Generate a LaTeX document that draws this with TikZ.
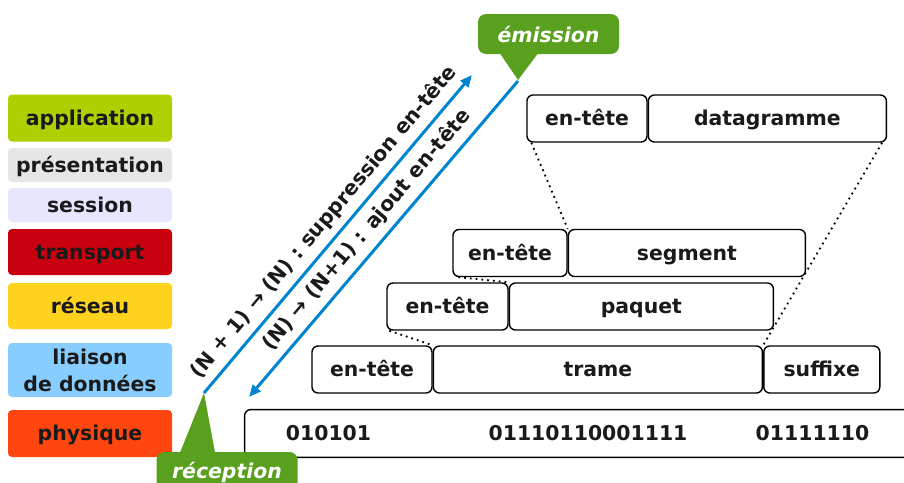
\documentclass[tikz,border=0pt]{standalone}
\usepackage{fontspec}
\setmainfont{DejaVu Sans}
\usetikzlibrary{
  arrows.meta, % for the Triangle arrow tips
  calc, % for the tails of the callouts
  positioning, % to put the boxes of a row side by side
}
\definecolor{applic}{RGB}{175,208,0}
\definecolor{presen}{RGB}{230,230,230}
\definecolor{sess}{RGB}{230,230,255}
\definecolor{transp}{RGB}{200,0,15}
\definecolor{resea}{RGB}{255,210,30}
\definecolor{liais}{RGB}{135,205,255}
\definecolor{phys}{RGB}{255,70,15}
\definecolor{emgreen}{RGB}{88,160,30}
\definecolor{flowblue}{RGB}{0,132,209}
\definecolor{ink}{RGB}{26,26,26}
\newcommand{\boxfont}{\fontsize{10.2}{12.5}\selectfont\bfseries}
\tikzset{
  label text/.style={ % same baseline for every one line text
    text height=7.4pt,text depth=0pt,
    text=ink,
    font=\boxfont,
  },
  layer/.style={ % style for the coloured layers on the left
    rectangle,rounded corners=2pt, % no border, softly rounded
    inner sep=0pt, % the size is set by hand
    minimum width=82pt, % all layers have the same width
    align=center, % for the two line layer
    label text,
  },
  pdu/.style={ % style for the white boxes of a data unit
    rectangle,draw,line width=0.7pt, % drawn as a thin rectangle
    rounded corners=3pt,
    fill=white,
    inner sep=0pt,
    minimum height=23.5pt, % every row has the same height
    label text,
  },
  callout/.style={ % style for the green speech bubbles
    rectangle,rounded corners=4pt,
    fill=emgreen,text=white,
    minimum width=70.5pt,minimum height=20pt,
    font=\fontsize{10.2}{12.5}\selectfont\bfseries\itshape,
  },
  flow/.style={ % style for the blue arrows
    -{Triangle[length=6pt,width=5pt]}, % solid arrow tip
    line width=1.5pt,
    draw=flowblue,
  },
  cut/.style={ % style for the dotted guide lines
    dotted,line width=0.9pt,
  },
}

\begin{document}
\begin{tikzpicture}[x=0.5pt,y=-0.5pt]
	\useasboundingbox (0,0) rectangle (904,482);
	
	% layers
	\node (app) [layer, fill=applic, minimum height=23.5pt] at (90,118) {application};
	\node (pres) [layer, fill=presen, minimum height=17pt] at (90,165) {présentation};
	\node (sess) [layer, fill=sess, minimum height=17pt] at (90,205) {session};
	\node (trans) [layer, fill=transp, minimum height=23pt] at (90,252) {transport};
	\node (res) [layer, fill=resea, minimum height=23pt] at (90,306) {réseau};
	\node (liai) [layer, fill=liais, minimum height=27pt, text height=, text depth=] at (90,370) {liaison\\[1pt]de données};
	\node (phy) [layer, fill=phys, minimum height=23.5pt] at (90,433.5) {physique};
	
	% data units
	\node (dghead) [pdu, minimum width=60pt] at (587,118.5) {en-tête};
	\node (dg) [pdu, minimum width=119pt, right=0pt of dghead] {datagramme};
	
	\node (seghead) [pdu, minimum width=57pt] at (510,253) {en-tête};
	\node (seg) [pdu, minimum width=118.5pt, right=0pt of seghead] {segment};
	
	\node (pqhead) [pdu, minimum width=60.5pt] at (447.5,306.5) {en-tête};
	\node (pq) [pdu, minimum width=132pt, right=0pt of pqhead] {paquet};
	
	\node (trhead) [pdu, minimum width=60pt] at (372,369.5) {en-tête};
	\node (tr) [pdu, minimum width=164.5pt, right=0pt of trhead] {trame};
	\node (suff) [pdu, minimum width=58pt, right=0pt of tr] {suffixe};
	
	\node (bits) [minimum width=329.5pt, minimum height=23.5pt, inner sep=0pt] at (574.5,433.5) {};
	\draw[line width=0.7pt, rounded corners=3pt] (bits.north east) -- (bits.north west)
		-- (bits.south west) -- (bits.south east);
	\node (b1) [label text] at (328.5,433.5) {010101};
	\node (b2) [label text] at (588,433.5) {01110110001111};
	\node (b3) [label text] at (812.5,433.5) {01111110};
	
	\draw[cut] ([xshift=2.5pt]dghead.south west) -- (seg.north west);
	\draw[cut] ([xshift=-2.5pt]dg.south east) -- (tr.north east);
	\draw[cut] ([xshift=3pt]seghead.south west) -- (pq.north west);
	\draw[cut] ([xshift=1.5pt]pqhead.south west) -- (tr.north west);
	
	% callouts
	\coordinate (emtip) at (518,80);
	\coordinate (rectip) at (204,393);
	\node (emis) [callout] at (548.5,34) {émission};
	\fill[emgreen] ($(emis.south)+(-48.5,-1)$) -- (emtip) -- ($(emis.south)+(-10.5,-1)$) -- cycle;
	\node (recep) [callout] at (227,472) {réception};
	\fill[emgreen] ($(recep.north)+(-47,1)$) -- (rectip) -- ($(recep.north)+(-12,1)$) -- cycle;
	
	% arrows
	\coordinate (uptip) at (472,75);
	\coordinate (downtip) at (249,397);
	\draw[flow] (rectip) -- node[sloped, above, pos=0.5, font=\boxfont, text=ink] {(N + 1) → (N) : suppression en-tête} (uptip);
	\draw[flow] ($(emtip)+(0,1)$) -- node[sloped, above, pos=0.51, font=\boxfont, text=ink] {(N) → (N+1) : ajout en-tête} (downtip);
\end{tikzpicture}
\end{document}
